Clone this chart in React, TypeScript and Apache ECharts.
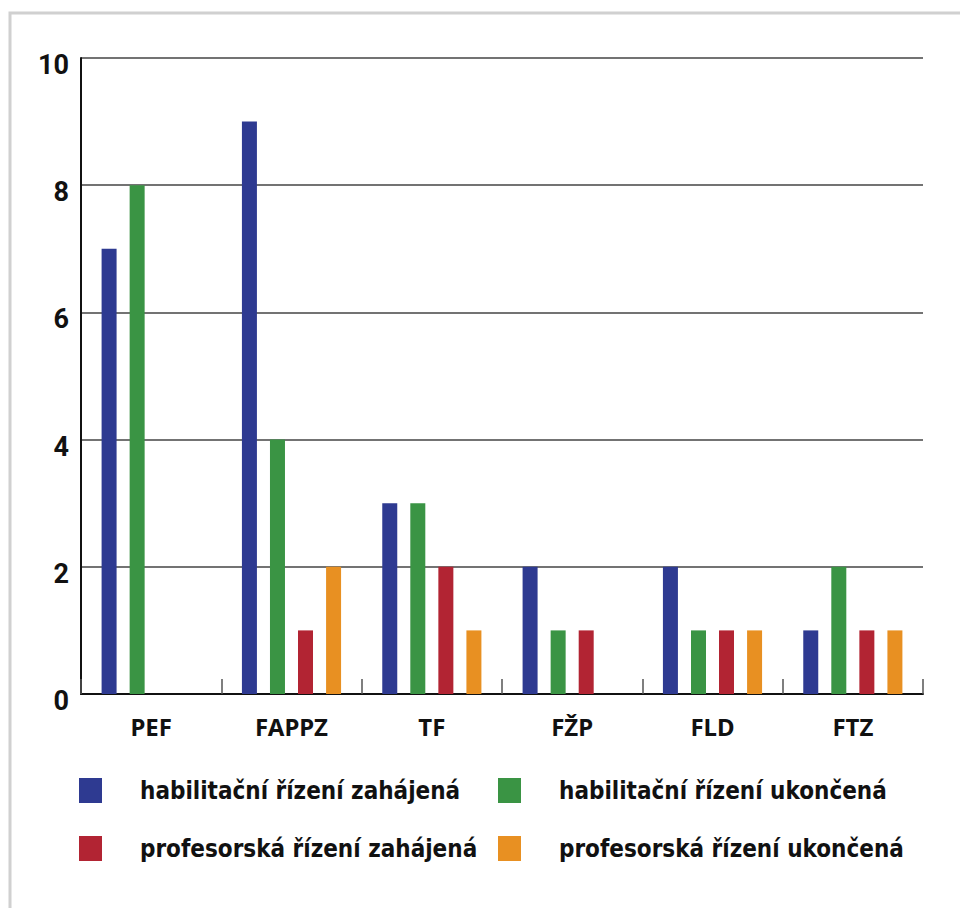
import React, { useEffect, useRef } from "react";
import * as echarts from "echarts";

const categories = ["PEF", "FAPPZ", "TF", "FŽP", "FLD", "FTZ"];
const habZahajena = [7, 9, 3, 2, 2, 1];
const habUkoncena = [8, 4, 3, 1, 1, 2];
const profZahajena = [0, 1, 2, 1, 1, 1];
const profUkoncena = [0, 2, 1, 0, 1, 1];
const yTicks = [0, 2, 4, 6, 8, 10];

const seriesNames = [
  "habilitační řízení zahájená",
  "habilitační řízení ukončená",
  "profesorská řízení zahájená",
  "profesorská řízení ukončená",
];
const colors = ["#2E3A91", "#3A9444", "#B22433", "#E89022"];

const legendFont = '"Liberation Sans Narrow", "DejaVu Sans Condensed", "Roboto", sans-serif';

export default function App() {
  const ref = useRef<HTMLDivElement>(null);

  useEffect(() => {
    if (!ref.current) return;
    const chart = echarts.init(ref.current, null, { renderer: "svg" });
    const values = [habZahajena, habUkoncena, profZahajena, profUkoncena];

    const legendBase = {
      orient: "vertical" as const,
      top: 773,
      padding: 5,
      itemWidth: 23,
      itemHeight: 25,
      itemGap: 33,
      icon: "rect",
      selectedMode: false,
      textStyle: {
        fontFamily: legendFont,
        fontWeight: "bold" as const,
        fontSize: 24,
        color: "#111",
        padding: [0, 0, 0, 33],
      },
    };

    chart.setOption({
      animation: false,
      backgroundColor: "#fff",
      graphic: [
        {
          type: "rect",
          shape: { x: 10, y: 13, width: 1000, height: 1000 },
          style: { fill: "none", stroke: "#d0d0d0", lineWidth: 3 },
          silent: true,
        },
      ],
      legend: [
        { ...legendBase, left: 74, data: [seriesNames[0], seriesNames[2]] },
        { ...legendBase, left: 493, data: [seriesNames[1], seriesNames[3]] },
      ],
      grid: { left: 81, right: 37, top: 58, bottom: 214, containLabel: false },
      xAxis: {
        type: "category",
        data: categories,
        axisLine: { lineStyle: { color: "#111", width: 2 } },
        axisTick: {
          show: true,
          inside: true,
          length: 15,
          lineStyle: { color: "#555", width: 1.5 },
        },
        axisLabel: {
          margin: 20,
          fontFamily: '"Noto Sans", sans-serif',
          fontWeight: "bold",
          fontSize: 24,
          color: "#111",
        },
      },
      yAxis: {
        type: "value",
        min: yTicks[0],
        max: yTicks[yTicks.length - 1],
        interval: 2,
        axisLine: { show: true, lineStyle: { color: "#111", width: 2 } },
        axisTick: { show: false },
        splitLine: { lineStyle: { color: "#444", width: 1.5 } },
        axisLabel: {
          margin: 12,
          fontFamily: '"Roboto", sans-serif',
          fontWeight: "bold",
          fontSize: 27,
          color: "#111",
          verticalAlign: "top",
          lineHeight: 14,
        },
      },
      series: seriesNames.map((name, i) => ({
        name,
        type: "bar",
        data: values[i],
        barWidth: 15,
        barGap: "87%",
        itemStyle: { color: colors[i] },
      })),
    });

    return () => chart.dispose();
  }, []);

  return (
    <div
      ref={ref}
      style={{ position: "fixed", left: 0, top: 0, width: 960, height: 908 }}
    />
  );
}
